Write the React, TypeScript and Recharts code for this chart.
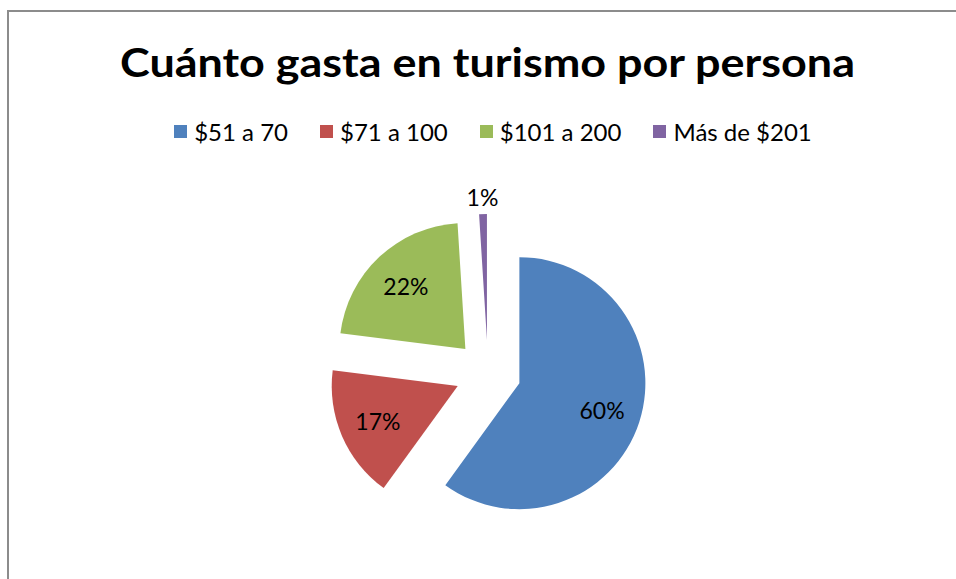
import { PieChart, Pie, Legend, Sector } from "recharts";

const categories = ["$51 a 70", "$71 a 100", "$101 a 200", "Más de $201"];
const shares = [60, 17, 22, 1];
const colors = ["#4F81BD", "#C0504D", "#9BBB59", "#8064A2"];

const data = categories.map((name, i) => ({ name, value: shares[i], fill: colors[i] }));

const RAD = Math.PI / 180;
const EXPLODE = 33;
const FONT = "Lato, 'Open Sans', sans-serif";

function shift(midAngle: number, d: number) {
  return { dx: d * Math.cos(-midAngle * RAD), dy: d * Math.sin(-midAngle * RAD) };
}

function ExplodedSlice(props: any) {
  const { dx, dy } = shift(props.midAngle, EXPLODE);
  return <Sector {...props} cx={props.cx + dx} cy={props.cy + dy} stroke="none" />;
}

function SliceLabel(props: any) {
  const { cx, cy, midAngle, outerRadius, percent } = props;
  const off = shift(midAngle, EXPLODE);
  const r = percent < 0.05 ? outerRadius + 17 : outerRadius * 0.69;
  const p = shift(midAngle, r);
  return (
    <text
      x={cx + off.dx + p.dx}
      y={cy + off.dy + p.dy}
      textAnchor="middle"
      dominantBaseline="central"
      fontFamily={FONT}
      fontSize={23}
      fill="#000"
    >
      {`${Math.round(percent * 100)}%`}
    </text>
  );
}

function LegendContent({ payload }: any) {
  const items = [...(payload || [])].sort(
    (a: any, b: any) => categories.indexOf(a.value) - categories.indexOf(b.value)
  );
  return (
    <div style={{ display: "flex", justifyContent: "center", paddingLeft: 30, fontFamily: FONT, fontSize: 24 }}>
      {items.map((item: any, i: number) => (
        <div key={i} style={{ display: "flex", alignItems: "center", marginRight: i < items.length - 1 ? 32 : 0 }}>
          <span style={{ width: 13, height: 13, background: item.color, marginRight: 7, display: "inline-block" }} />
          <span style={{ color: "#000" }}>{item.value}</span>
        </div>
      ))}
    </div>
  );
}

export default function App() {
  return (
    <div style={{ position: "fixed", left: 0, top: 0, width: 956, height: 579, overflow: "hidden", background: "#fff" }}>
      <div
        style={{
          position: "absolute",
          left: 7,
          top: 10,
          width: 1000,
          height: 700,
          border: "2px solid #8c8c8c",
          boxSizing: "border-box",
        }}
      />
      <svg style={{ position: "absolute", left: 0, top: 0 }} width={956} height={100}>
        <text
          x={487.5}
          y={77}
          textAnchor="middle"
          fontFamily={FONT}
          fontWeight={700}
          fontSize={40}
          textLength={735}
          lengthAdjust="spacingAndGlyphs"
          fill="#000"
        >
          Cuánto gasta en turismo por persona
        </text>
      </svg>
      <div style={{ position: "absolute", left: 0, top: 0 }}>
        <PieChart width={956} height={579} margin={{ top: 0, right: 0, bottom: 0, left: 0 }}>
          <Legend
            verticalAlign="top"
            itemSorter={null as any}
            content={<LegendContent />}
            wrapperStyle={{ top: 117, left: 0, width: 956 }}
          />
          <Pie
            data={data}
            dataKey="value"
            nameKey="name"
            cx={488}
            cy={344}
            outerRadius={126}
            startAngle={90}
            endAngle={-270}
            shape={ExplodedSlice}
            label={SliceLabel}
            labelLine={false}
            isAnimationActive={false}
          />
        </PieChart>
      </div>
    </div>
  );
}
